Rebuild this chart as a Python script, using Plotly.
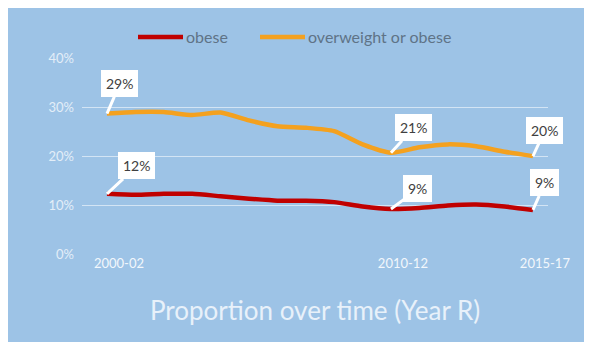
import plotly.graph_objects as go

categories = ["2000-02", "2001-03", "2002-04", "2003-05", "2004-06", "2005-07",
              "2006-08", "2007-09", "2008-10", "2009-11", "2010-12", "2011-13",
              "2012-14", "2013-15", "2014-16", "2015-17"]
obese = [0.123, 0.121, 0.123, 0.123, 0.118, 0.113, 0.109, 0.109, 0.106, 0.097,
         0.092, 0.094, 0.099, 0.101, 0.097, 0.090]
overweight_or_obese = [0.287, 0.290, 0.290, 0.284, 0.289, 0.273, 0.261, 0.258,
                       0.251, 0.224, 0.207, 0.218, 0.224, 0.220, 0.209, 0.200]
label_cats = ["2000-02", "2010-12", "2015-17"]
y_ticks = [0, 0.1, 0.2, 0.3, 0.4]
series_names = ["obese", "overweight or obese"]
series_colors = ["#C00000", "#F4A11F"]

BG = "#9DC3E6"
xs = list(range(len(categories)))

fig = go.Figure()
for name, vals, col in zip(series_names, [obese, overweight_or_obese], series_colors):
    fig.add_trace(go.Scatter(x=xs, y=vals, name=name, mode="lines", showlegend=False,
                             line=dict(color=col, width=4.5, shape="spline", smoothing=0.6)))

# data-label callouts
callouts = [
    ("overweight", 0, 13, -30),
    ("overweight", 10, 23, -25),
    ("overweight", 15, 12, -26),
    ("obese", 0, 30, -28),
    ("obese", 10, 27, -20),
    ("obese", 15, 12, -27),
]
for series, idx, ax, ay in callouts:
    vals = overweight_or_obese if series == "overweight" else obese
    fig.add_annotation(x=xs[idx], y=vals[idx], text=f"{round(vals[idx]*100):.0f}%",
                       showarrow=True, arrowhead=0, arrowwidth=3, arrowcolor="white",
                       ax=ax, ay=ay, standoff=0, bgcolor="white", bordercolor="white",
                       borderpad=4, font=dict(family="Lato", size=14, color="#404040"))

L, R, T, B = 74, 52, 50, 96
W, H = 592, 342
pw, ph = W - L - R, H - T - B

# manual legend (long line samples, like the original)
leg_y = 1 + 21 / ph
leg_items = [(130, 175), (252, 297)]
for (x0, x1), name, col in zip(leg_items, series_names, series_colors):
    fig.add_shape(type="line", xref="paper", yref="paper",
                  x0=(x0 - L) / pw, x1=(x1 - L) / pw, y0=leg_y, y1=leg_y,
                  line=dict(color=col, width=4.5))
    fig.add_annotation(text=name, xref="paper", yref="paper", x=(x1 + 1 - L) / pw, y=leg_y,
                       xanchor="left", yanchor="middle", showarrow=False,
                       font=dict(family="Lato", size=16, color="#5F7387"))

fig.add_annotation(text="Proportion over time (Year R)", xref="paper", yref="paper",
                   x=0.5, y=0, yanchor="middle", yshift=-56, showarrow=False,
                   font=dict(family="Lato", size=26, color="#E8F1FA"))

fig.update_layout(
    width=W, height=H,
    margin=dict(l=L, r=R, t=T, b=B),
    paper_bgcolor=BG, plot_bgcolor=BG,
    font=dict(family="Lato"),
    showlegend=False,
    xaxis=dict(range=[-0.88, 15.53], showgrid=False, zeroline=False, showline=False,
               tickmode="array",
               tickvals=[categories.index(c) + 0.42 for c in label_cats],
               ticktext=label_cats, ticks="",
               tickfont=dict(family="Lato", size=13, color="#F2F7FC")),
    yaxis=dict(range=[0, 0.4005], tickvals=y_ticks, tickformat=".0%", showgrid=True,
               gridcolor="rgba(255,255,255,0.55)", gridwidth=1, zeroline=False,
               showline=False, ticks="", ticklabelstandoff=7,
               tickfont=dict(family="Lato", size=13, color="#E3EEF8")),
)

fig.write_html("out.html")
